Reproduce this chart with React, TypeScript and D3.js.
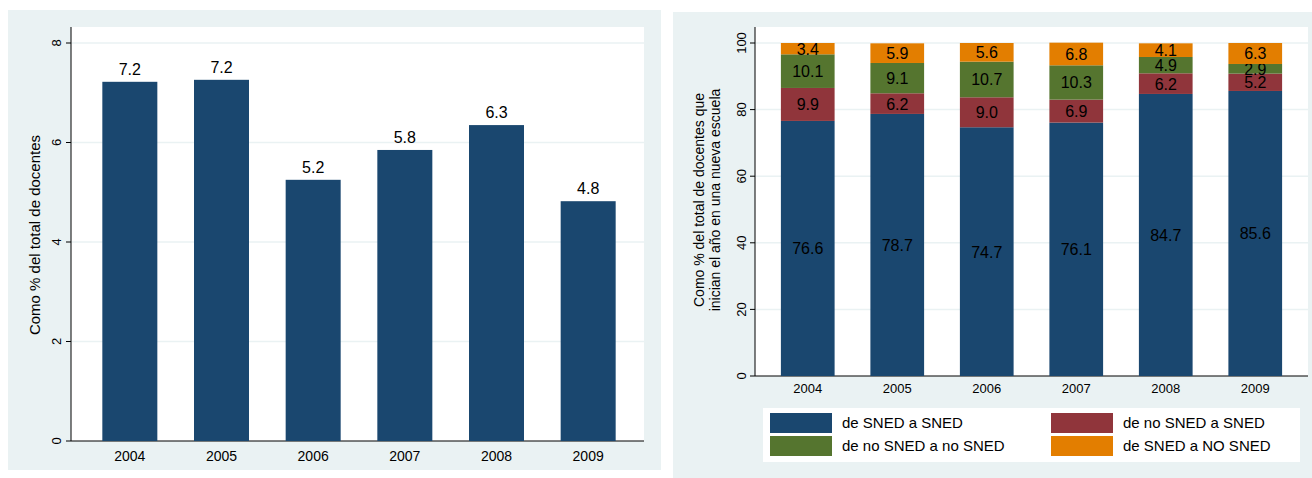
import React from 'react';
import * as d3 from 'd3';

const years = ['2004', '2005', '2006', '2007', '2008', '2009'];
const totalPct = [7.22, 7.26, 5.25, 5.85, 6.35, 4.82];
const totalLabels = ['7.2', '7.2', '5.2', '5.8', '6.3', '4.8'];

const seriesNames = ['de SNED a SNED', 'de no SNED a SNED', 'de no SNED a no SNED', 'de SNED a NO SNED'];
const sSnedSned = [76.6, 78.7, 74.7, 76.1, 84.7, 85.6];
const sNoSned = [9.9, 6.2, 9.0, 6.9, 6.2, 5.2];
const sNoNo = [10.1, 9.1, 10.7, 10.3, 4.9, 2.9];
const sSnedNo = [3.4, 5.9, 5.6, 6.8, 4.1, 6.3];
const colors = ['#1a476f', '#90353b', '#55752f', '#e37e00'];

const font = 'Liberation Sans, Arial, sans-serif';
const bg = '#eaf2f3';

function LeftPanel() {
  const x = d3.scaleBand().domain(years).range([84, 634]).paddingInner(0.4).paddingOuter(0.2);
  const y = d3.scaleLinear().domain([0, 8]).range([441, 43]);
  return (
    <g>
      <rect x={8} y={10} width={653} height={460} fill={bg} />
      <rect x={71} y={27} width={573} height={414} fill="#fff" />
      {y.ticks(4).map(t => (
        <g key={t}>
          {t > 0 && <line x1={71} x2={644} y1={y(t)} y2={y(t)} stroke={bg} strokeWidth={1.5} />}
          <line x1={66} x2={71} y1={y(t)} y2={y(t)} stroke="#000" />
          <text transform={`translate(61,${y(t)}) rotate(-90)`} textAnchor="middle" fontSize={13}>{t}</text>
        </g>
      ))}
      <line x1={71} x2={71} y1={27} y2={441} stroke="#000" />
      <line x1={71} x2={644} y1={441} y2={441} stroke="#000" />
      {years.map((yr, i) => (
        <g key={yr}>
          <rect x={x(yr)} y={y(totalPct[i])} width={x.bandwidth()} height={y(0) - y(totalPct[i])} fill={colors[0]} />
          <text x={x(yr)! + x.bandwidth() / 2} y={y(totalPct[i]) - 7} textAnchor="middle" fontSize={16}>{totalLabels[i]}</text>
          <text x={x(yr)! + x.bandwidth() / 2} y={461} textAnchor="middle" fontSize={14}>{yr}</text>
        </g>
      ))}
      <text transform="translate(40,235) rotate(-90)" textAnchor="middle" fontSize={15}>Como % del total de docentes</text>
    </g>
  );
}

function RightPanel() {
  const x = d3.scaleBand().domain(years).range([763, 1300]).paddingInner(0.4).paddingOuter(0.2);
  const y = d3.scaleLinear().domain([0, 100]).range([376, 43]);
  const stackData = years.map((yr, i) => ({ yr, s0: sSnedSned[i], s1: sNoSned[i], s2: sNoNo[i], s3: sSnedNo[i] }));
  const stack = d3.stack<any>().keys(['s0', 's1', 's2', 's3'])(stackData);
  return (
    <g>
      <rect x={673} y={12} width={639} height={466} fill={bg} />
      <rect x={755} y={27} width={553} height={349} fill="#fff" />
      {y.ticks(5).map(t => (
        <g key={t}>
          {t > 0 && <line x1={755} x2={1308} y1={y(t)} y2={y(t)} stroke={bg} strokeWidth={1.5} />}
          <line x1={750} x2={755} y1={y(t)} y2={y(t)} stroke="#000" />
          <text transform={`translate(746,${y(t)}) rotate(-90)`} textAnchor="middle" fontSize={13}>{t}</text>
        </g>
      ))}
      <line x1={755} x2={755} y1={27} y2={376} stroke="#000" />
      <line x1={755} x2={1308} y1={376} y2={376} stroke="#000" />
      {stack.map((layer, k) => layer.map((d, i) => {
        const cx = x(years[i])! + x.bandwidth() / 2;
        return (
          <g key={`${k}-${i}`}>
            <rect x={x(years[i])} y={y(d[1])} width={x.bandwidth()} height={y(d[0]) - y(d[1])} fill={colors[k]} />
            <text x={cx} y={(y(d[0]) + y(d[1])) / 2 + 6} textAnchor="middle" fontSize={16}>
              {(d[1] - d[0]).toFixed(1)}
            </text>
          </g>
        );
      }))}
      {years.map(yr => (
        <text key={yr} x={x(yr)! + x.bandwidth() / 2} y={393} textAnchor="middle" fontSize={13}>{yr}</text>
      ))}
      <text transform="translate(704,200) rotate(-90)" textAnchor="middle" fontSize={14}>Como % del total de docentes que</text>
      <text transform="translate(720,200) rotate(-90)" textAnchor="middle" fontSize={14}>inician el año en una nueva escuela</text>
      <rect x={763} y={408} width={537} height={54} fill="#fff" />
      {seriesNames.map((n, k) => {
        const lx = k % 2 === 0 ? 770 : 1051;
        const ly = k < 2 ? 413 : 436;
        return (
          <g key={n}>
            <rect x={lx} y={ly} width={62} height={20} fill={colors[k]} />
            <text x={lx + 72} y={ly + 15} fontSize={15}>{n}</text>
          </g>
        );
      })}
    </g>
  );
}

export default function App() {
  return (
    <svg width={1312} height={478} style={{ display: 'block', position: 'absolute', left: 0, top: 0 }} fontFamily={font}>
      <rect width={1312} height={478} fill="#fff" />
      <LeftPanel />
      <RightPanel />
    </svg>
  );
}
